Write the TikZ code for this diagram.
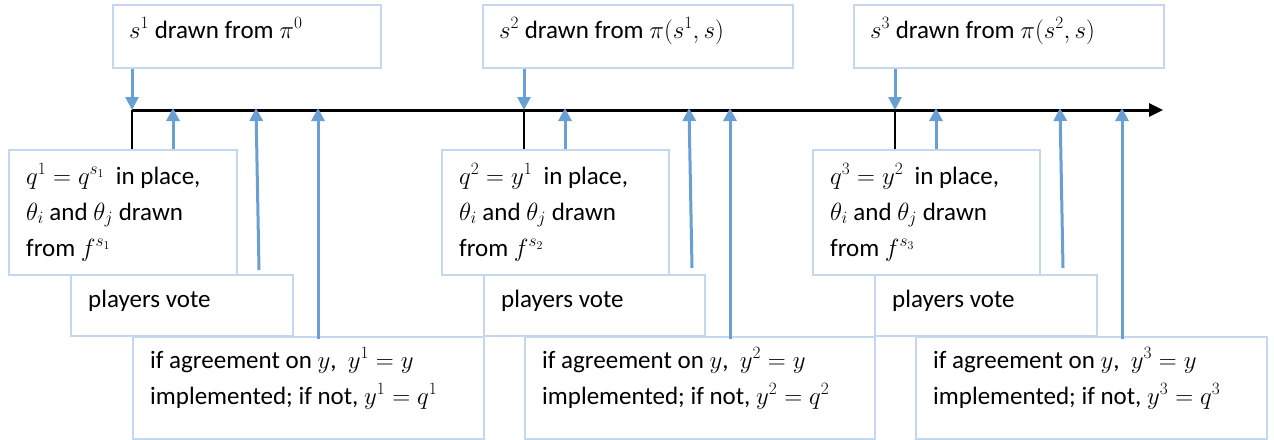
\documentclass[tikz,border=0pt]{standalone}
\usepackage{fontspec}
\setmainfont{Carlito}
\usetikzlibrary{arrows.meta,calc}
\definecolor{boxline}{HTML}{C3D8EF}
\definecolor{arrblue}{HTML}{6A9FD3}
\tikzset{
  box/.style={draw=boxline, line width=2pt, fill=white, rectangle, inner sep=0pt, anchor=north west},
  txt/.style={inner sep=0pt, align=left, anchor=base west, font=\fontsize{25}{36}\selectfont},
  barrow/.style={draw=arrblue, line width=3pt, -{Triangle[length=13pt,width=13pt]}},
  axisline/.style={draw=black, line width=3pt, -{Triangle[length=14pt,width=13pt]}},
  tickline/.style={draw=black, line width=2.2pt}
}
\begin{document}
\begin{tikzpicture}[x=1pt,y=-1pt]
\useasboundingbox (0,0) rectangle (1274,439);
% big boxes
\node[box, minimum width=351pt, minimum height=102pt] (big1) at (132,336) {};
\node[box, minimum width=350pt, minimum height=102pt] (big2) at (524,336) {};
\node[box, minimum width=351pt, minimum height=102pt] (big3) at (915,336) {};
% vote boxes
\node[box, minimum width=222pt, minimum height=61pt] (vote1) at (70,274) {};
\node[box, minimum width=221pt, minimum height=61pt] (vote2) at (483,274) {};
\node[box, minimum width=222pt, minimum height=61pt] (vote3) at (874,274) {};
% q boxes
\node[box, minimum width=228pt, minimum height=125pt] (q1) at (8,149) {};
\node[box, minimum width=227pt, minimum height=125pt] (q2) at (441,149) {};
\node[box, minimum width=227pt, minimum height=125pt] (q3) at (812,149) {};
% top boxes
\node[box, minimum width=268pt, minimum height=63pt] (top1) at (112,4) {};
\node[box, minimum width=310pt, minimum height=63pt] (top2) at (482,4) {};
\node[box, minimum width=310pt, minimum height=63pt] (top3) at (853,4) {};
% texts (base = baseline of last line)
\node[txt] (t1) at ($(top1.north west)+(17,34)$) {$s^1$ drawn from $\pi^0$};
\node[txt] (t2) at ($(top2.north west)+(17,34)$) {$s^2$ drawn from $\pi(s^1,s)$};
\node[txt] (t3) at ($(top3.north west)+(17,34)$) {$s^3$ drawn from $\pi(s^2,s)$};
\node[txt] (tq1) at ($(q1.north west)+(18,107)$) {$q^1=q^{s_1}$\ \ in place,\\$\theta_i$ and $\theta_j$ drawn\\from $f^{s_1}$};
\node[txt] (tq2) at ($(q2.north west)+(18,107)$) {$q^2=y^1$\ \ in place,\\$\theta_i$ and $\theta_j$ drawn\\from $f^{s_2}$};
\node[txt] (tq3) at ($(q3.north west)+(18,107)$) {$q^3=y^2$\ \ in place,\\$\theta_i$ and $\theta_j$ drawn\\from $f^{s_3}$};
\node[txt] (tv1) at ($(vote1.north west)+(18,33)$) {players vote};
\node[txt] (tv2) at ($(vote2.north west)+(18,33)$) {players vote};
\node[txt] (tv3) at ($(vote3.north west)+(18,33)$) {players vote};
\node[txt] (tb1) at ($(big1.north west)+(18,68)$) {if agreement on $y$,\ \ $y^1=y$\\implemented; if not, $y^1=q^1$};
\node[txt] (tb2) at ($(big2.north west)+(18,68)$) {if agreement on $y$,\ \ $y^2=y$\\implemented; if not, $y^2=q^2$};
\node[txt] (tb3) at ($(big3.north west)+(18,68)$) {if agreement on $y$,\ \ $y^3=y$\\implemented; if not, $y^3=q^3$};
% axis coordinates
\coordinate (axs) at (132,110);
\coordinate (axe) at (1163,110);
\foreach \i/\tk/\u/\v/\w in {1/132/173/256/318, 2/524/565/689/730, 3/895/936/1060/1122}{
  \coordinate (k\i) at (\tk,110);
  \coordinate (u\i) at (\u,110);
  \coordinate (v\i) at (\v,110);
  \coordinate (w\i) at (\w,110);
}
\coordinate (vs1) at (259,270);
\coordinate (vs2) at (692,268);
\coordinate (vs3) at (1063,268);
% ticks
\draw[tickline] (k1) -- (k1 |- q1.north);
\draw[tickline] (k2) -- (k2 |- q2.north);
\draw[tickline] (k3) -- (k3 |- q3.north);
% axis
\draw[axisline] (axs) -- (axe);
% arrows
\draw[barrow] (top1.south -| k1) -- (k1);
\draw[barrow] (top2.south -| k2) -- (k2);
\draw[barrow] (top3.south -| k3) -- (k3);
\draw[barrow] (q1.north -| u1) -- ([yshift=2pt]u1);
\draw[barrow] (q2.north -| u2) -- ([yshift=2pt]u2);
\draw[barrow] (q3.north -| u3) -- ([yshift=2pt]u3);
\draw[barrow] (vs1) -- ([yshift=2pt]v1);
\draw[barrow] (vs2) -- ([yshift=2pt]v2);
\draw[barrow] (vs3) -- ([yshift=2pt]v3);
\draw[barrow] ([yshift=-3pt]big1.north -| w1) -- ([yshift=2pt]w1);
\draw[barrow] ([yshift=-3pt]big2.north -| w2) -- ([yshift=2pt]w2);
\draw[barrow] ([yshift=-3pt]big3.north -| w3) -- ([yshift=2pt]w3);
\end{tikzpicture}
\end{document}
